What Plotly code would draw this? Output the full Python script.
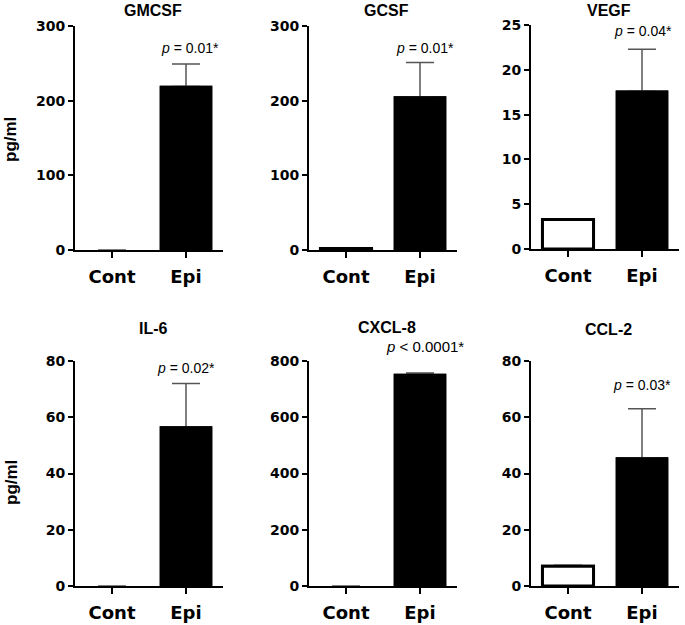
import plotly.graph_objects as go

# ---- data ----
categories = ["Cont", "Epi"]
panels = ["GMCSF", "GCSF", "VEGF", "IL-6", "CXCL-8", "CCL-2"]
cont_values = [0, 2, 3.3, 0, 0, 7]
epi_values = [219, 205, 17.6, 56.5, 752, 45.5]
cont_errors = [0, 0, 0, 0, 0, 0.4]
epi_errors = [30, 46, 4.7, 15.5, 5, 17.5]
p_labels = ["<i>p</i> = 0.01*", "<i>p</i> = 0.01*", "<i>p</i> = 0.04*",
            "<i>p</i> = 0.02*", "<i>p</i> < 0.0001*", "<i>p</i> = 0.03*"]
y_max = [300, 300, 25, 80, 800, 80]
y_dtick = [100, 100, 5, 20, 200, 20]

# ---- layout geometry (pixels) ----
W, H = 685, 625
x_left_px = [75, 309, 531, 75, 309, 531]
x_width_px = 148
row_top_px = [26, 26, 25, 361, 361, 361]
row_bot_px = [250, 250, 249, 586, 586, 586]
title_y_px = [11, 11, 11, 328, 327, 329]
p_yshift = [6, 5, 8, 6, 16, 14]
p_xshift = [4, 5, 1, 0, 5, 0]
p_size = [14, 14, 14, 14, 15, 14]

FONT = "Liberation Sans, Arial, sans-serif"
TICKFONT = "DejaVu Sans, Liberation Sans, sans-serif"

fig = go.Figure()
layout = dict(
    width=W, height=H, margin=dict(l=0, r=0, t=0, b=0),
    paper_bgcolor="white", plot_bgcolor="white", showlegend=False,
    font=dict(family=FONT, color="black"),
    barmode="overlay",
)
annotations = []

for i, name in enumerate(panels):
    n = i + 1
    xa = "x" if n == 1 else f"x{n}"
    ya = "y" if n == 1 else f"y{n}"
    xkey = "xaxis" if n == 1 else f"xaxis{n}"
    ykey = "yaxis" if n == 1 else f"yaxis{n}"

    vals = [cont_values[i], epi_values[i]]
    line_w = [3 if cont_values[i] > 0 else 0, 1.5]
    marker = dict(color=["white", "black"],
                  line=dict(color="black", width=line_w))
    errs = [e if e > 0 else None for e in (cont_errors[i], epi_errors[i])]

    # bars carrying the upper error bars
    fig.add_trace(go.Bar(
        x=categories, y=vals, xaxis=xa, yaxis=ya, width=0.69,
        marker=marker,
        error_y=dict(type="data", symmetric=False,
                     array=errs, arrayminus=[None, None], color="#555555",
                     thickness=1.5, width=14),
    ))
    # same bars drawn again on top to hide the lower caps
    fig.add_trace(go.Bar(
        x=categories, y=vals, xaxis=xa, yaxis=ya, width=0.69,
        marker=marker, hoverinfo="skip",
    ))

    x0 = x_left_px[i] / W
    x1 = (x_left_px[i] + x_width_px) / W
    y0 = 1 - row_bot_px[i] / H
    y1 = 1 - row_top_px[i] / H

    layout[xkey] = dict(
        domain=[x0, x1], anchor=ya, range=[-0.5, 1.5],
        showline=True, linecolor="black", linewidth=2,
        ticks="outside", ticklen=6, tickwidth=1.5, tickcolor="black",
        tickfont=dict(size=18, family=TICKFONT, weight="bold"),
        ticklabelstandoff=3,
        showgrid=False, zeroline=False, automargin=False,
    )
    layout[ykey] = dict(
        domain=[y0, y1], anchor=xa, range=[0, y_max[i]], dtick=y_dtick[i],
        showline=True, linecolor="black", linewidth=2,
        ticks="outside", ticklen=5, tickwidth=1.5, tickcolor="black",
        tickfont=dict(size=14, family=TICKFONT, weight="bold"),
        showgrid=False, zeroline=False, automargin=False,
    )

    annotations.append(dict(
        text=f"<b>{name}</b>", xref="paper", yref="paper",
        x=(x0 + x1) / 2 + 4 / W, y=1 - title_y_px[i] / H,
        showarrow=False, font=dict(size=16, family=FONT),
        xanchor="center", yanchor="middle",
    ))
    annotations.append(dict(
        text=p_labels[i], xref=xa, yref=ya,
        x="Epi", y=epi_values[i] + epi_errors[i],
        showarrow=False, font=dict(size=p_size[i], family=FONT),
        xanchor="center", yanchor="bottom", yshift=p_yshift[i],
        xshift=p_xshift[i],
    ))

for yc in [140, 483]:
    annotations.append(dict(
        text="<b>pg/ml</b>", xref="paper", yref="paper",
        x=11 / W, y=1 - yc / H, showarrow=False, textangle=-90,
        font=dict(size=17, family=FONT), xanchor="center", yanchor="middle",
    ))

layout["annotations"] = annotations
fig.update_layout(**layout)
fig.write_html("out.html", config={"displayModeBar": False},
               post_script="document.body.style.margin='0px';")
